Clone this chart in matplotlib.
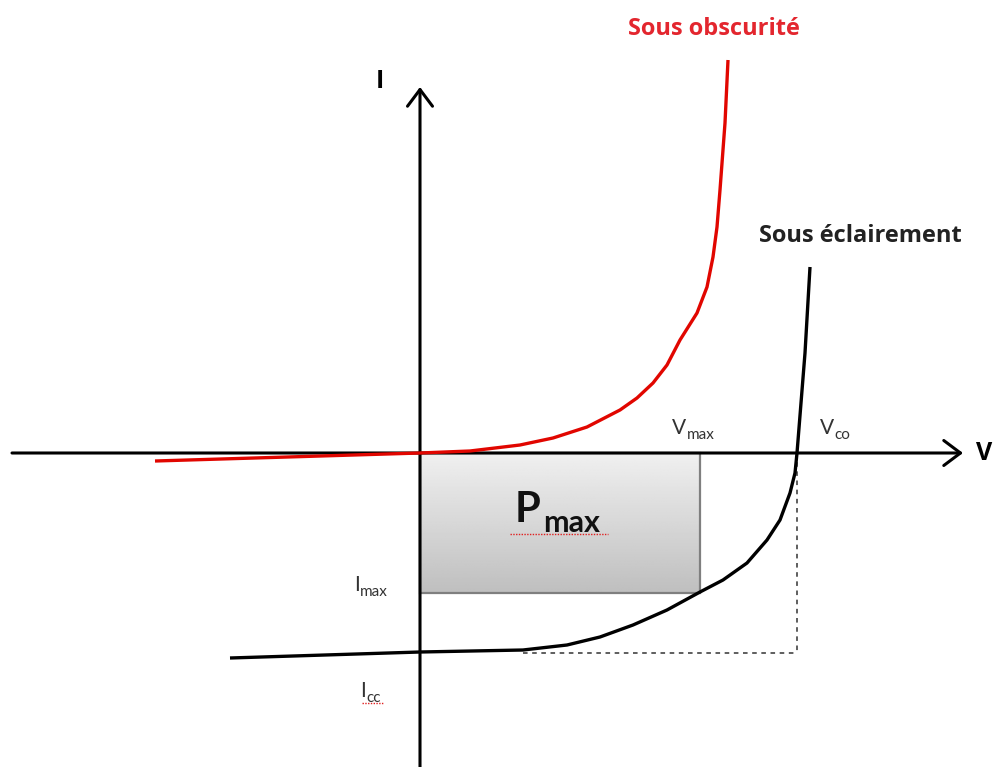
import numpy as np
import matplotlib.pyplot as plt
from matplotlib.patches import Rectangle

plt.rcParams['font.family'] = ['Lato', 'DejaVu Sans']

# origin = crossing of the V and I axes, units ~ pixels
# dark curve (sous obscurite)
v_dark = [-265, 0, 50, 100, 133, 167, 200, 217, 233, 247, 260, 277, 287,
          293, 297, 300, 305, 308]
i_dark = [-8, 0, 2, 8, 15, 26, 43, 55, 70, 88, 113, 140, 166,
          196, 226, 263, 330, 393]

# illuminated curve (sous eclairement)
v_light = [-190, 0, 103, 147, 180, 213, 247, 280, 303, 327, 347, 360, 370,
           375, 377, 385, 390]
i_light = [-205, -199, -197, -192, -184, -172, -157, -139, -127, -110, -87,
           -67, -40, -20, 0, 100, 186]

v_max, i_max = 280, -140
v_co, i_cc = 377, -200

fig = plt.figure(figsize=(9.93, 7.67), dpi=100)
ax = fig.add_axes([0, 0, 1, 1])
ax.set_xlim(-420, 573)
ax.set_ylim(-314, 453)
ax.axis('off')

# Pmax rectangle with grey gradient
grad = np.linspace(0.94, 0.75, 100).reshape(-1, 1)
ax.imshow(grad, cmap='gray', vmin=0, vmax=1, extent=(0, v_max, i_max, 0),
          aspect='auto', zorder=1)
ax.add_patch(Rectangle((0, i_max), v_max, -i_max, fill=False,
                       ec='#7f7f7f', lw=1.6, zorder=2))

# dashed guides
ax.plot([v_co, v_co], [0, i_cc], ls=(0, (3, 3)), color='#333333', lw=1.1, zorder=2)
ax.plot([103, v_co], [i_cc, i_cc], ls=(0, (3, 3)), color='#333333', lw=1.1, zorder=2)

# axes with arrows
arrow = dict(arrowstyle='->,head_length=0.6,head_width=0.45', lw=2.2,
             color='black', mutation_scale=20, shrinkA=0, shrinkB=0)
ax.annotate('', xy=(543, 0), xytext=(-408, 0), arrowprops=arrow, zorder=3)
ax.annotate('', xy=(0, 366), xytext=(0, -316), arrowprops=arrow, zorder=3)

# curves
ax.plot(v_dark, i_dark, color='#e10600', lw=2.4, solid_capstyle='butt',
        solid_joinstyle='round', zorder=4)
ax.plot(v_light, i_light, color='black', lw=2.4, solid_capstyle='butt',
        solid_joinstyle='round', zorder=4)

# axis names
ax.text(-40, 371, 'I', fontsize=18, fontweight='bold', ha='center', va='center',
        family='Open Sans')
ax.text(556, 0, 'V', fontsize=18, fontweight='bold', ha='left', va='center',
        family='Open Sans')

# curve labels
ax.text(294, 424, 'Sous obscurité', fontsize=17, fontweight='bold',
        color='#e3262e', ha='center', va='center', family='Open Sans')
ax.text(440, 217, 'Sous éclairement', fontsize=17, fontweight='bold',
        color='#222222', ha='center', va='center', family='Open Sans')

# point labels: main letter + subscript
def label(x, y, main, sub, size=15, subsize=11, color='#333333'):
    t = ax.text(x, y, main, fontsize=size, color=color, ha='left', va='baseline')
    fig.canvas.draw()
    bb = t.get_window_extent().transformed(ax.transData.inverted())
    ax.text(bb.x1 + 0.5, y - 5, sub, fontsize=subsize, color=color,
            ha='left', va='baseline')

label(252, 19, 'V', 'max')
label(400, 19, 'V', 'co')
label(-66, -138, 'I', 'max')
label(-60, -244, 'I', 'cc')

# Pmax
ax.text(95, -69, 'P', fontsize=30, fontweight='bold', color='#111111',
        ha='left', va='baseline', zorder=5)
ax.text(123, -79, 'max', fontsize=22, fontweight='bold', color='#111111',
        ha='left', va='baseline', zorder=5)
ax.plot([90, 188], [-81, -81], ls=(0, (1, 1)), color='#e02020', lw=1.0, zorder=5)
ax.plot([-58, -36], [-250, -250], ls=(0, (1, 1)), color='#e02020', lw=1.0, zorder=5)

fig.savefig('out.png', dpi=100)
